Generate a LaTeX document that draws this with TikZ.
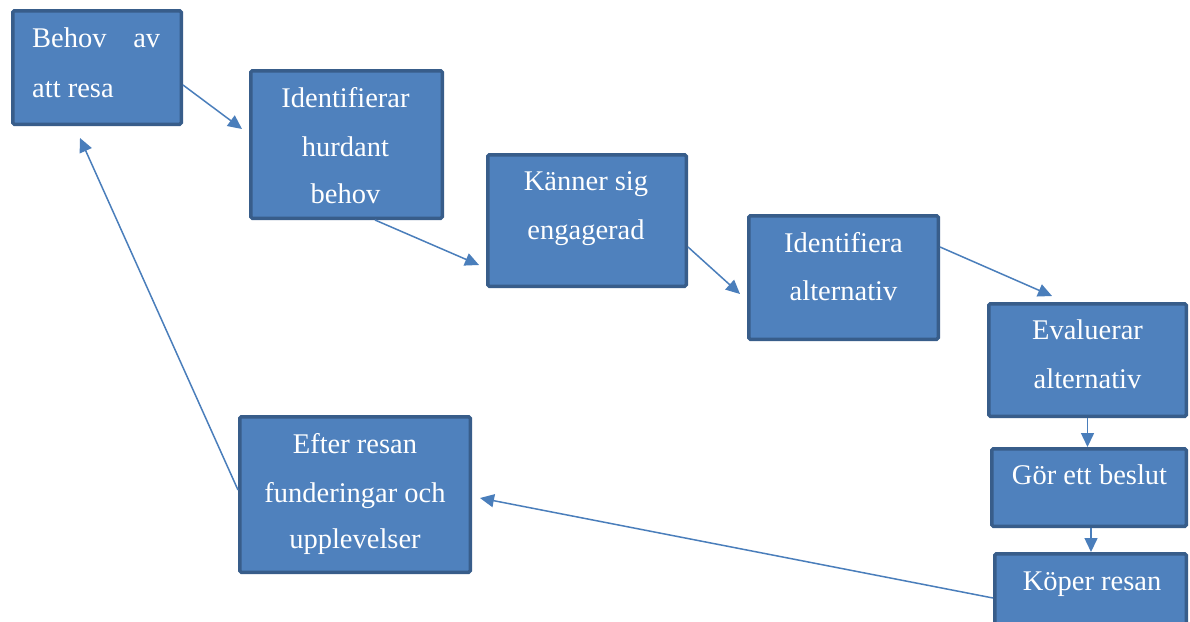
\documentclass[tikz,border=0pt]{standalone}
\usepackage{fontspec}
\setmainfont{Liberation Serif}
\usetikzlibrary{arrows.meta}
\definecolor{boxfill}{HTML}{4F81BD}
\definecolor{boxdraw}{HTML}{385D8A}
\definecolor{arrowcol}{HTML}{4A7EBB}
\tikzset{
  stagebox/.style={draw=boxdraw, fill=boxfill, line width=3.5pt, rounded corners=1.5pt, inner sep=0pt},
  txt/.style={text=white, font=\fontsize{28.5}{34}\selectfont, inner sep=0pt, anchor=base},
  conn/.style={draw=arrowcol, line width=1.5pt, -{Triangle[length=14pt,width=13pt]}}
}
\begin{document}
\begin{tikzpicture}[x=1pt, y=-1pt]
\clip (0,0) rectangle (1190,621);
\fill[white] (0,0) rectangle (1190,621);
% boxes
\node[stagebox, minimum width=168.5pt, minimum height=113.5pt] (b1) at (97,67.5) {};
\node[stagebox, minimum width=191.5pt, minimum height=147.5pt] (b2) at (346.5,144.5) {};
\node[stagebox, minimum width=198.5pt, minimum height=131.5pt] (b3) at (587,220.5) {};
\node[stagebox, minimum width=189.5pt, minimum height=123.5pt] (b4) at (843.5,277.5) {};
\node[stagebox, minimum width=197.5pt, minimum height=112.5pt] (b5) at (1087.5,360) {};
\node[stagebox, minimum width=194.5pt, minimum height=77.5pt] (b6) at (1089,487.5) {};
\node[stagebox, minimum width=191.5pt, minimum height=84.5pt] (b7) at (1090.5,596) {};
\node[stagebox, minimum width=230.5pt, minimum height=155.5pt] (b8) at (355,494.5) {};
% texts
\node[txt, anchor=base west] (t1a) at (32,47) {\hbox to 128pt{Behov\hfill av}};
\node[txt, anchor=base west] (t1b) at (32,97) {att resa};
\node[txt] (t2a) at (345.5,107) {Identifierar};
\node[txt] (t2b) at (345.5,156) {hurdant};
\node[txt] (t2c) at (345.5,203) {behov};
\node[txt] (t3a) at (586,190) {Känner sig};
\node[txt] (t3b) at (586,239) {engagerad};
\node[txt] (t4a) at (843.5,252) {Identifiera};
\node[txt] (t4b) at (843.5,300) {alternativ};
\node[txt] (t5a) at (1087.5,339) {Evaluerar};
\node[txt] (t5b) at (1087.5,388) {alternativ};
\node[txt] (t6a) at (1089.5,484) {Gör ett beslut};
\node[txt] (t7a) at (1092,590) {Köper resan};
\node[txt] (t8a) at (355,453) {Efter resan};
\node[txt] (t8b) at (355,502) {funderingar och};
\node[txt] (t8c) at (355,548) {upplevelser};
% free ends
\coordinate (e1) at (242,129);
\coordinate (e2) at (479,265);
\coordinate (e3) at (740,294);
\coordinate (e4) at (1052,296);
\coordinate (e7) at (480,498);
\coordinate (e8) at (80,138);
% connectors
\draw[conn] ([yshift=-17.5pt]b1.east) -- (e1);
\draw[conn] ([xshift=28.5pt]b2.south) -- (e2);
\draw[conn] ([yshift=-26.5pt]b3.east) -- (e3);
\draw[conn] ([yshift=30.5pt]b4.east) -- (e4);
\draw[conn] (b5.south) -- (b5.south |- b6.north);
\draw[conn] ([xshift=2pt]b6.south) -- ([xshift=2pt]b6.south |- b7.north);
\draw[conn] ([yshift=-2pt]b7.west) -- (e7);
\draw[conn] ([yshift=4.5pt]b8.west) -- (e8);
\end{tikzpicture}
\end{document}
